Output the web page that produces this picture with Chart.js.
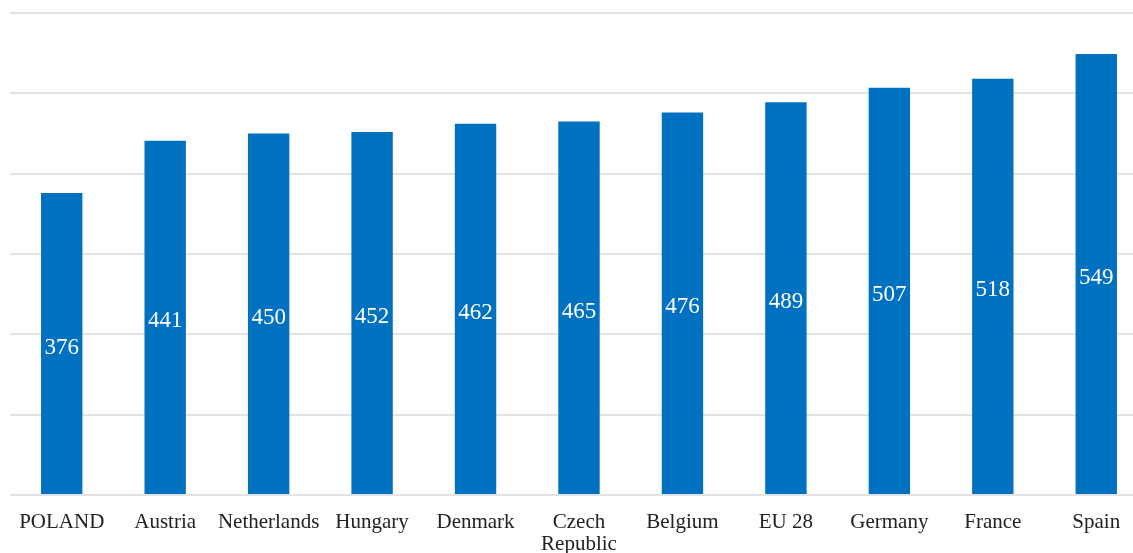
<!DOCTYPE html>
<html>
<head>
<meta charset="utf-8">
<script src="https://cdn.jsdelivr.net/npm/chart.js@4"></script>
<style>
html,body{margin:0;padding:0;background:#fff;overflow:hidden;}
#wrap{width:1160px;height:576px;position:relative;}
</style>
</head>
<body>
<div id="wrap"><canvas id="c" width="1160" height="576"></canvas></div>
<script>
const categories = ["POLAND","Austria","Netherlands","Hungary","Denmark",["Czech","Republic"],"Belgium","EU 28","Germany","France","Spain"];
const values = [376,441,450,452,462,465,476,489,507,518,549];
const yTicks = [0,100,200,300,400,500,600];

const valueLabels = {
  id: 'valueLabels',
  afterDatasetsDraw(chart) {
    const ctx = chart.ctx;
    const meta = chart.getDatasetMeta(0);
    ctx.save();
    ctx.font = '23px "Liberation Serif", "Times New Roman", serif';
    ctx.fillStyle = '#ffffff';
    ctx.textAlign = 'center';
    ctx.textBaseline = 'middle';
    meta.data.forEach((bar, i) => {
      const y = (bar.y + bar.base) / 2 + 4;
      ctx.fillText(String(chart.data.datasets[0].data[i]), bar.x, y);
    });
    ctx.restore();
  }
};

new Chart(document.getElementById('c'), {
  type: 'bar',
  data: {
    labels: categories,
    datasets: [{
      data: values,
      backgroundColor: '#0070C0',
      barPercentage: 0.4,
      categoryPercentage: 1.0
    }]
  },
  options: {
    responsive: false,
    animation: false,
    layout: { padding: { left: 10, right: 12, top: 13, bottom: 5 } },
    plugins: { legend: { display: false }, tooltip: { enabled: false } },
    scales: {
      x: {
        grid: { display: false, drawTicks: false },
        border: { display: false },
        ticks: {
          color: '#222',
          padding: 16,
          maxRotation: 0,
          autoSkip: false,
          font: { family: '"Liberation Serif", "Times New Roman", serif', size: 21, lineHeight: '22px' }
        }
      },
      y: {
        min: yTicks[0],
        max: yTicks[yTicks.length - 1],
        afterBuildTicks(axis) { axis.ticks = yTicks.map(v => ({ value: v })); },
        grid: { color: '#e3e3e3', lineWidth: 2, drawTicks: false },
        border: { display: false },
        ticks: { display: false }
      }
    }
  },
  plugins: [valueLabels]
});
</script>
</body>
</html>
